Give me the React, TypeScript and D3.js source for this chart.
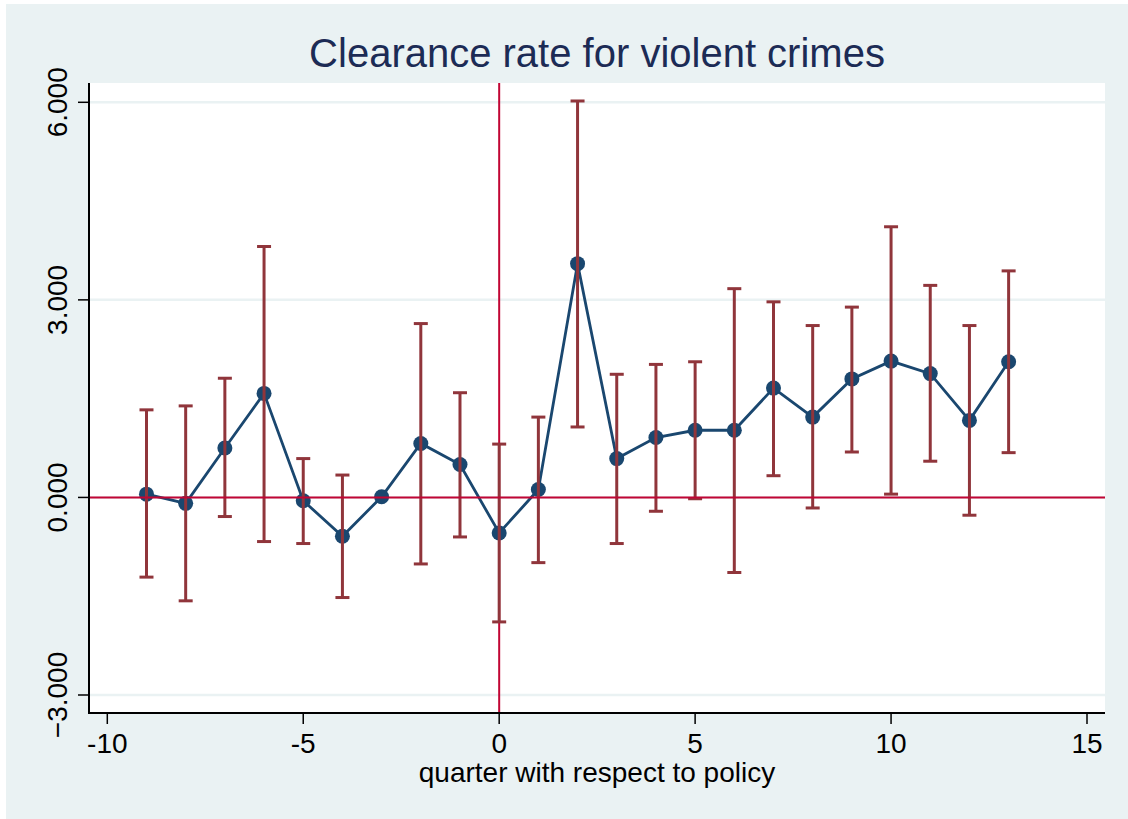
import React from "react";
import * as d3 from "d3";

const quarters = [-9, -8, -7, -6, -5, -4, -3, -2, -1, 0, 1, 2, 3, 4, 5, 6, 7, 8, 9, 10, 11, 12, 13];
const estimates = [0.05, -0.09, 0.75, 1.58, -0.05, -0.59, 0.01, 0.82, 0.5, -0.54, 0.12, 3.55, 0.59, 0.91, 1.02, 1.02, 1.66, 1.22, 1.8, 2.07, 1.88, 1.17, 2.06];
const ciUpper = [1.33, 1.39, 1.81, 3.81, 0.59, 0.34, 0.01, 2.64, 1.59, 0.81, 1.22, 6.02, 1.87, 2.02, 2.06, 3.17, 2.97, 2.61, 2.89, 4.11, 3.22, 2.61, 3.44];
const ciLower = [-1.21, -1.57, -0.29, -0.67, -0.7, -1.52, 0.01, -1.01, -0.6, -1.89, -0.99, 1.07, -0.7, -0.21, -0.02, -1.14, 0.33, -0.16, 0.69, 0.05, 0.55, -0.27, 0.68];
const xTicks = [-10, -5, 0, 5, 10, 15];
const yTicks = [-3, 0, 3, 6];

const title = "Clearance rate for violent crimes";
const xTitle = "quarter with respect to policy";

const W = 1128;
const H = 819;
const plot = { left: 89, right: 1105, top: 83, bottom: 713 };
const FONT = "'Liberation Sans', Arial, Helvetica, sans-serif";

export default function App() {
  const x = d3.scaleLinear().domain([-10, 15]).range([107.3, 1087]);
  const y = d3.scaleLinear().domain([-3, 6]).range([695, 102.3]);

  const pts = quarters.map((q, i) => ({ q, v: estimates[i], lo: ciLower[i], hi: ciUpper[i] }));
  const line = d3
    .line<{ q: number; v: number }>()
    .x((d) => x(d.q))
    .y((d) => y(d.v));

  const cap = 7;

  return (
    <svg width={W} height={H} style={{ display: "block", position: "absolute", left: 0, top: 0 }}>
      <rect x={0} y={0} width={W} height={H} fill="#ffffff" />
      <rect x={6} y={4} width={W - 6} height={H - 4} fill="#eaf2f3" />
      <rect x={plot.left} y={plot.top} width={plot.right - plot.left} height={plot.bottom - plot.top} fill="#ffffff" />

      {/* gridlines */}
      {yTicks.map((t) => (
        <line key={"g" + t} x1={plot.left} x2={plot.right} y1={y(t)} y2={y(t)} stroke="#eaf2f3" strokeWidth={2.5} />
      ))}

      {/* connected line */}
      <path d={line(pts) || ""} fill="none" stroke="#1a476f" strokeWidth={2.8} />
      {pts.map((p) => (
        <circle key={"m" + p.q} cx={x(p.q)} cy={y(p.v)} r={7.5} fill="#1a476f" />
      ))}

      {/* vertical reference line */}
      <line x1={x(0)} x2={x(0)} y1={plot.top} y2={plot.bottom} stroke="#c10534" strokeWidth={2} />

      {/* error bars */}
      {pts
        .filter((p) => p.hi !== p.lo)
        .map((p) => (
          <g key={"e" + p.q} stroke="#90353b" strokeWidth={3}>
            <line x1={x(p.q)} x2={x(p.q)} y1={y(p.hi)} y2={y(p.lo)} />
            <line x1={x(p.q) - cap} x2={x(p.q) + cap} y1={y(p.hi)} y2={y(p.hi)} />
            <line x1={x(p.q) - cap} x2={x(p.q) + cap} y1={y(p.lo)} y2={y(p.lo)} />
          </g>
        ))}

      {/* horizontal reference line */}
      <line x1={plot.left} x2={plot.right} y1={y(0)} y2={y(0)} stroke="#c10534" strokeWidth={2} />

      {/* axes */}
      <line x1={plot.left} x2={plot.left} y1={plot.top} y2={plot.bottom + 1} stroke="#000" strokeWidth={2} />
      <line x1={plot.left - 1} x2={plot.right} y1={plot.bottom} y2={plot.bottom} stroke="#000" strokeWidth={2} />

      {yTicks.map((t) => (
        <g key={"yt" + t}>
          <line x1={plot.left - 11} x2={plot.left} y1={y(t)} y2={y(t)} stroke="#000" strokeWidth={1.5} />
          <text
            transform={`translate(67,${y(t)}) rotate(-90)`}
            textAnchor="middle"
            fontFamily={FONT}
            fontSize={28}
            fill="#000"
          >
            {d3.format(".3f")(t)}
          </text>
        </g>
      ))}

      {xTicks.map((t) => (
        <g key={"xt" + t}>
          <line x1={x(t)} x2={x(t)} y1={plot.bottom} y2={plot.bottom + 11} stroke="#000" strokeWidth={1.5} />
          <text x={x(t)} y={753} textAnchor="middle" fontFamily={FONT} fontSize={28} fill="#000">
            {t}
          </text>
        </g>
      ))}

      <text x={(plot.left + plot.right) / 2} y={782} textAnchor="middle" fontFamily={FONT} fontSize={28} fill="#000">
        {xTitle}
      </text>

      <text x={(plot.left + plot.right) / 2} y={67} textAnchor="middle" fontFamily={FONT} fontSize={40} fill="#1c2b55">
        {title}
      </text>
    </svg>
  );
}
